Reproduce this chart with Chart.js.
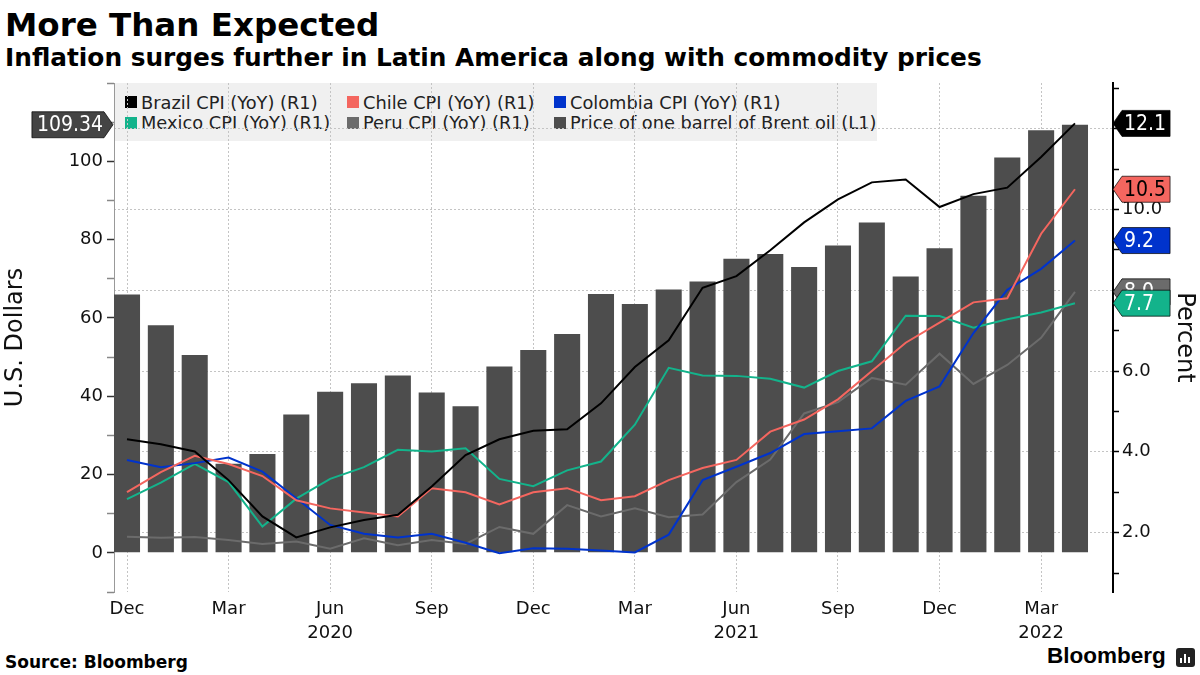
<!DOCTYPE html>
<html>
<head>
<meta charset="utf-8">
<script src="https://cdn.jsdelivr.net/npm/chart.js@4.4.1/dist/chart.umd.min.js"></script>
<style>
  body { margin: 0; width: 1200px; height: 675px; position: relative; overflow: hidden; background: #fff;
         font-family: "DejaVu Sans", sans-serif; color: #000; }
  #title { position: absolute; left: 5px; top: 9px; font-size: 32.5px; font-weight: bold; line-height: 32.5px; white-space: nowrap; }
  #subtitle { position: absolute; left: 5px; top: 46px; font-size: 24.8px; font-weight: bold; line-height: 24.8px; white-space: nowrap; }
  #legend { position: absolute; left: 114px; top: 83px; width: 763px; height: 58px; background: #f0f0f0;
            box-sizing: border-box; padding: 9px 0 0 11px; display: grid; grid-template-columns: 222px 207px auto;
            grid-auto-rows: 20.6px; font-size: 17.8px; color: #222; }
  #legend div { display: flex; align-items: center; white-space: nowrap; }
  #legend span.box { width: 12px; height: 12px; margin-right: 4px; flex: none; }
  #c { position: absolute; left: 0; top: 0; z-index: 1; }
  #source { position: absolute; left: 5px; top: 654px; font-size: 17px; font-weight: bold; line-height: 17px; }
  #logo { position: absolute; left: 1047px; top: 645px; font-family: "Liberation Sans", Arial, sans-serif; font-size: 22.5px; font-weight: bold; line-height: 22.5px; }
  #icon { position: absolute; left: 1176px; top: 648px; width: 19px; height: 19px; background: #222; border-radius: 3px; }
  #icon i { position: absolute; bottom: 4px; width: 2px; background: #fff; }
</style>
</head>
<body>
<div id="title">More Than Expected</div>
<div id="subtitle">Inflation surges further in Latin America along with commodity prices</div>
<div id="legend"></div>
<canvas id="c" width="1200" height="675"></canvas>
<div id="source">Source: Bloomberg</div>
<div id="logo">Bloomberg</div>
<div id="icon"><i style="left:4px;height:5px"></i><i style="left:8px;height:9px"></i><i style="left:12px;height:6px"></i></div>
<script>
// monthly data, Dec 2019 .. Apr 2022
const months = ['Dec 2019','Jan 2020','Feb 2020','Mar 2020','Apr 2020','May 2020','Jun 2020','Jul 2020','Aug 2020',
  'Sep 2020','Oct 2020','Nov 2020','Dec 2020','Jan 2021','Feb 2021','Mar 2021','Apr 2021','May 2021','Jun 2021',
  'Jul 2021','Aug 2021','Sep 2021','Oct 2021','Nov 2021','Dec 2021','Jan 2022','Feb 2022','Mar 2022','Apr 2022'];
const brent    = [66.00,58.16,50.52,22.74,25.27,35.33,41.15,43.30,45.28,40.95,37.46,47.59,51.80,55.88,66.13,63.54,67.25,69.32,75.13,76.33,73.02,78.52,84.38,70.57,77.78,91.21,100.99,107.91,109.34];
const brazil   = [4.31,4.19,4.01,3.30,2.40,1.88,2.13,2.31,2.44,3.14,3.92,4.31,4.52,4.56,5.20,6.10,6.76,8.06,8.35,8.99,9.68,10.25,10.67,10.74,10.06,10.38,10.54,11.30,12.13];
const chile    = [3.0,3.5,3.9,3.7,3.4,2.8,2.6,2.5,2.4,3.1,3.0,2.7,3.0,3.1,2.8,2.9,3.3,3.6,3.8,4.5,4.8,5.3,6.0,6.7,7.2,7.7,7.8,9.4,10.5];
const colombia = [3.80,3.62,3.72,3.86,3.51,2.85,2.19,1.97,1.88,1.97,1.75,1.49,1.61,1.60,1.56,1.51,1.95,3.30,3.63,3.97,4.44,4.51,4.58,5.26,5.62,6.94,8.01,8.53,9.23];
const mexico   = [2.83,3.24,3.70,3.25,2.15,2.84,3.33,3.62,4.05,4.01,4.09,3.33,3.15,3.54,3.76,4.67,6.08,5.89,5.88,5.81,5.59,6.00,6.24,7.37,7.36,7.07,7.28,7.45,7.68];
const peru     = [1.90,1.87,1.89,1.82,1.72,1.78,1.60,1.86,1.69,1.82,1.72,2.14,1.97,2.68,2.40,2.60,2.38,2.45,3.25,3.81,4.95,5.23,5.83,5.66,6.43,5.68,6.15,6.82,7.96];

// axis ticks
const quarterMonths = ['Dec','Mar','Jun','Sep'];
const yearLabels = { 'Jun 2020': '2020', 'Jun 2021': '2021', 'Mar 2022': '2022' };
const leftTicks  = [-10,0,10,20,30,40,50,60,70,80,90,100,110,120];
const leftLabels = [0,20,40,60,80,100];
const rightTicks = [1,2,3,4,5,6,7,8,9,10,11,12,13];

const FONT = '"DejaVu Sans", sans-serif';
const TAG_FONT = '"DejaVu Sans Condensed", "DejaVu Sans", sans-serif';
Chart.defaults.font.family = FONT;
Chart.defaults.color = '#111';

const pts = arr => arr.map((v, i) => ({ x: i, y: v }));
const isQuarter = i => months[i] && quarterMonths.includes(months[i].split(' ')[0]);

function lineSet(label, data, color, tag, order) {
  return { type: 'line', label, data: pts(data), yAxisID: 'yR', borderColor: color, backgroundColor: color,
           borderWidth: 2, pointRadius: 0, tension: 0, order, tag };
}

const datasets = [
  lineSet('Brazil CPI (YoY) (R1)', brazil, '#000000', { bg: '#000000', fg: '#fff', z: 1 }, 1),
  lineSet('Chile CPI (YoY) (R1)', chile, '#f4665f', { bg: '#f4665f', fg: '#000', z: 2 }, 2),
  lineSet('Colombia CPI (YoY) (R1)', colombia, '#0033cc', { bg: '#0033cc', fg: '#fff', z: 3 }, 3),
  lineSet('Mexico CPI (YoY) (R1)', mexico, '#13b38b', { bg: '#13b38b', fg: '#fff', z: 5 }, 4),
  lineSet('Peru CPI (YoY) (R1)', peru, '#6b6b6b', { bg: '#6b6b6b', fg: '#fff', z: 4 }, 5),
  { type: 'bar', label: 'Price of one barrel of Brent oil (L1)', data: pts(brent), yAxisID: 'yL',
    backgroundColor: '#4d4d4d', barPercentage: 0.77, categoryPercentage: 1, order: 10,
    tag: { bg: '#444444', fg: '#fff', z: 0 } }
];

// value tags on the axes
const endLabels = {
  id: 'endLabels',
  afterDraw(chart) {
    const c = chart.ctx, area = chart.chartArea;
    const h = 26, arrow = 9;
    c.save();
    c.font = '21px ' + TAG_FONT;
    c.textBaseline = 'middle';
    const sets = chart.data.datasets.slice().sort((a, b) => a.tag.z - b.tag.z);
    const rightSets = sets.filter(d => d.yAxisID === 'yR');
    const w = Math.max(...rightSets.map(d => c.measureText(d.data[d.data.length - 1].y.toFixed(1)).width)) + 6;
    sets.forEach(d => {
      const v = d.data[d.data.length - 1].y;
      const scale = chart.scales[d.yAxisID];
      const y = scale.getPixelForValue(v);
      c.beginPath();
      let text, tx;
      if (d.yAxisID === 'yR') {
        const x0 = area.right;
        text = v.toFixed(1);
        c.moveTo(x0, y); c.lineTo(x0 + arrow, y - h / 2); c.lineTo(x0 + arrow + w, y - h / 2);
        c.lineTo(x0 + arrow + w, y + h / 2); c.lineTo(x0 + arrow, y + h / 2);
        c.textAlign = 'left'; tx = x0 + arrow + 2;
      } else {
        const x0 = area.left - 1;
        text = v.toFixed(2);
        const tw = c.measureText(text).width;
        const bx = x0 - 10 - tw - 5;
        c.moveTo(x0, y); c.lineTo(x0 - arrow, y - h / 2); c.lineTo(bx, y - h / 2);
        c.lineTo(bx, y + h / 2); c.lineTo(x0 - arrow, y + h / 2);
        c.textAlign = 'right'; tx = x0 - 10;
      }
      c.closePath();
      c.fillStyle = d.tag.bg; c.fill();
      c.lineWidth = 1; c.strokeStyle = 'rgba(0,0,0,0.7)'; c.stroke();
      c.fillStyle = d.tag.fg;
      c.fillText(text, tx, y + 1);
    });
    c.restore();
  }
};

const chart = new Chart(document.getElementById('c'), {
  type: 'bar',
  data: { datasets },
  options: {
    responsive: false,
    animation: false,
    layout: { padding: { top: 83, left: 0, right: 0, bottom: 0 } },
    plugins: { legend: { display: false }, tooltip: { enabled: false } },
    scales: {
      x: {
        type: 'linear', min: -0.384, max: 29.123, offset: false,
        afterBuildTicks: s => { s.ticks = months.map((m, i) => ({ value: i })); },
        afterFit: s => { s.height = 83; },
        grid: { offset: false, drawTicks: false, lineWidth: 1,
                color: ctx => (ctx.tick && isQuarter(ctx.tick.value)) ? '#c4c4c4' : 'rgba(0,0,0,0)' },
        border: { display: false, dash: [2, 2] },
        ticks: {
          autoSkip: false, maxRotation: 0, padding: 5, color: '#111',
          font: { size: 18, lineHeight: 1.35 },
          callback: v => {
            if (!isQuarter(v)) return '';
            const m = months[v];
            return yearLabels[m] ? [m.split(' ')[0], yearLabels[m]] : m.split(' ')[0];
          }
        }
      },
      yL: {
        type: 'linear', position: 'left', min: -10, max: 120,
        afterBuildTicks: s => { s.ticks = leftTicks.map(v => ({ value: v })); },
        afterFit: s => { s.width = 114; },
        grid: { drawOnChartArea: false, tickLength: 7, tickWidth: 1.5,
                tickColor: ctx => leftLabels.includes(ctx.tick.value) ? '#333' : '#888' },
        border: { color: '#999', width: 1 },
        ticks: { padding: 4, color: '#111', font: { size: 18 },
                 callback: v => leftLabels.includes(v) ? String(v) : '' },
        title: { display: true, text: 'U.S. Dollars', color: '#111', font: { size: 24 }, padding: { top: 1 } }
      },
      yR: {
        type: 'linear', position: 'right', min: 0.53, max: 13.13,
        afterBuildTicks: s => { s.ticks = rightTicks.map(v => ({ value: v })); },
        afterFit: s => { s.width = 87; },
        grid: { lineWidth: 1, tickLength: 6, tickWidth: 1.5, tickColor: '#000',
                color: ctx => (ctx.tick && ctx.tick.value % 2 === 0) ? '#c4c4c4' : 'rgba(0,0,0,0)' },
        border: { color: '#000', width: 2, dash: [2, 2] },
        ticks: { padding: 3, color: '#111', font: { size: 18 },
                 callback: v => v % 2 === 0 ? v.toFixed(1) : '' },
        title: { display: true, text: 'Percent', color: '#111', font: { size: 24 }, padding: { top: 1 } }
      }
    }
  },
  plugins: [endLabels]
});

// legend in three columns
const legend = document.getElementById('legend');
chart.data.datasets.forEach(d => {
  const item = document.createElement('div');
  const box = document.createElement('span');
  box.className = 'box';
  box.style.background = d.backgroundColor;
  item.appendChild(box);
  item.appendChild(document.createTextNode(d.label));
  legend.appendChild(item);
});
</script>
</body>
</html>
